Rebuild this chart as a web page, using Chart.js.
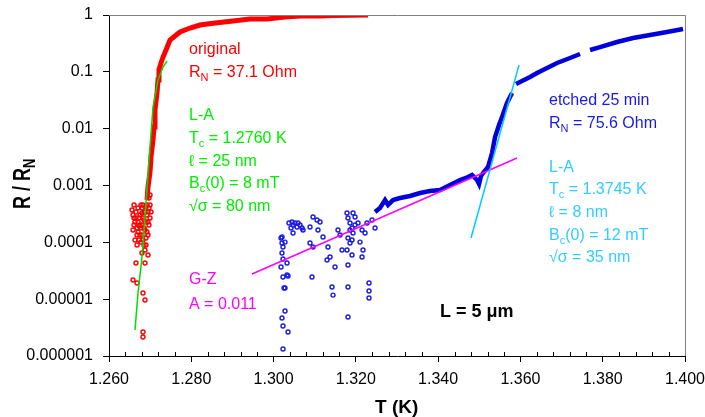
<!DOCTYPE html>
<html>
<head>
<meta charset="utf-8">
<script src="https://cdn.jsdelivr.net/npm/chart.js@4/dist/chart.umd.min.js"></script>
<style>
  body { margin: 0; background: #fff; }
</style>
</head>
<body>
<canvas id="rt" width="705" height="417"></canvas>
<script>
// axis ticks
const xTicks = [1.26, 1.28, 1.30, 1.32, 1.34, 1.36, 1.38, 1.40];
const xTickLabels = ['1.260', '1.280', '1.300', '1.320', '1.340', '1.360', '1.380', '1.400'];
const yTicks = [1e-6, 1e-5, 1e-4, 1e-3, 1e-2, 1e-1, 1];
const yTickLabels = ['0.000001', '0.00001', '0.0001', '0.001', '0.01', '0.1', '1'];

// original film, main trace
const origT = [1.26924, 1.26948, 1.26997, 1.27021, 1.27070, 1.27094, 1.27118, 1.27167, 1.27191, 1.27215,
  1.27264, 1.27313, 1.27386, 1.27483, 1.27604, 1.27726, 1.27969, 1.28212, 1.28577, 1.29014,
  1.29427, 1.29841, 1.30278, 1.30643, 1.31129, 1.31445, 1.31858, 1.32296];
const origR = [0.000555, 0.00094, 0.00173, 0.00317, 0.00632, 0.0107, 0.0213, 0.0424, 0.0718, 0.108,
  0.143, 0.182, 0.242, 0.363, 0.427, 0.502, 0.590, 0.667, 0.723, 0.784,
  0.850, 0.850, 0.922, 0.960, 0.960, 0.98, 0.99, 1.0];

// original film, noisy low part
const origNoiseT = [1.26559, 1.26583, 1.26608, 1.26632, 1.26656, 1.26681, 1.26705, 1.26729, 1.26754, 1.26778,
  1.26802, 1.26826, 1.26851, 1.26875, 1.26899, 1.26924, 1.26948, 1.26972, 1.26997, 1.26583,
  1.26632, 1.26705, 1.26778, 1.26851, 1.26899, 1.26948, 1.26802, 1.26729, 1.26681, 1.26875,
  1.26826, 1.26608,
  1.26656, 1.26705, 1.26754, 1.26754, 1.26802, 1.26826, 1.26851, 1.26875, 1.26899, 1.26924,
  1.26948, 1.26972, 1.26997, 1.27021, 1.26899, 1.26851, 1.26802, 1.26729, 1.26681, 1.26608,
  1.26778, 1.26924, 1.26972, 1.26997, 1.26948, 1.26875,
  1.26656, 1.26802, 1.26583, 1.26681, 1.26826, 1.26875, 1.26826, 1.26826];
const origNoiseR = [0.000371, 0.000303, 0.000454, 0.000228, 0.000342, 0.000179, 0.000402, 0.000268, 0.000135, 0.000454,
  0.000202, 0.000110, 0.000342, 0.000165, 0.0000897, 0.000303, 0.000228, 0.000402, 0.000268, 0.000165,
  0.000110, 0.000152, 0.000101, 0.000247, 0.000418, 0.000135, 0.000328, 0.000194, 0.0000897, 0.0000733,
  0.000454, 0.000202,
  0.000268, 0.000228, 0.000303, 0.000202, 0.000402, 0.000268, 0.000179, 0.000342, 0.000228, 0.000152,
  0.000342, 0.000202, 0.000454, 0.000342, 0.000119, 0.0000897, 0.000135, 0.000110, 0.000135, 0.000268,
  0.000179, 0.000454, 0.000602, 0.000680, 0.0000598, 0.0000433,
  0.0000433, 0.0000649, 0.0000217, 0.0000192, 0.0000128, 0.00000966, 0.00000264, 0.00000216];

// etched 25 min, continuous trace (null = gap)
const etchT = [1.32466, 1.32587, 1.32709, 1.32782, 1.32903, 1.33073, 1.33316, 1.33560, 1.33803, 1.34046,
  1.34289, 1.34532, 1.34726, 1.34824, 1.34945, 1.34994, 1.35042, 1.35091, 1.35212, 1.35310,
  1.35383, 1.35480, 1.35553, 1.35674, 1.35796, 1.35840,
  1.35893, 1.36039, 1.36233, 1.36404, 1.36647, 1.36890, 1.37206, 1.37449, 1.37570,
  1.37692, 1.37935, 1.38348, 1.38737, 1.39150, 1.39563, 1.39952];
const etchR = [0.000342, 0.000402, 0.000555, 0.000454, 0.000555, 0.000602, 0.000653, 0.000738, 0.000800, 0.000833,
  0.00102, 0.00125, 0.00141, 0.00153, 0.00125, 0.00106, 0.00147, 0.00166, 0.00211, 0.00373,
  0.00713, 0.0116, 0.0160, 0.0283, 0.0424, null,
  0.0611, 0.0690, 0.0811, 0.0954, 0.117, 0.143, 0.175, 0.206, null,
  0.242, 0.273, 0.335, 0.394, 0.445, 0.502, 0.567];

// etched 25 min, noisy low part
const etchNoiseT = [1.30375, 1.30448, 1.30473, 1.30521, 1.30570, 1.30594, 1.30643, 1.30691, 1.30716, 1.30424,
  1.30473, 1.30181, 1.30205, 1.30229, 1.30278, 1.30205, 1.30229, 1.30181, 1.30327, 1.30229,
  1.30351, 1.30278, 1.30278, 1.30205, 1.30229, 1.30351, 1.30229, 1.30886, 1.30959, 1.31056,
  1.31080, 1.31129, 1.31202, 1.30886, 1.30959, 1.30934, 1.31323, 1.31372, 1.31299, 1.31493,
  1.31566, 1.31615, 1.31664, 1.31420, 1.31445, 1.31785, 1.31809, 1.31858, 1.31907, 1.31931,
  1.31809, 1.31858, 1.31785, 1.31907, 1.31809, 1.31980, 1.31931, 1.31809, 1.31809, 1.32053,
  1.32150, 1.32223, 1.32271, 1.32101, 1.32174, 1.32150, 1.32320, 1.32320, 1.32320, 1.32466,
  1.32393, 1.30205, 1.30254, 1.30327, 1.31858, 1.31907, 1.31980];
const etchNoiseR = [0.000219, 0.000228, 0.000202, 0.000219, 0.000186, 0.000219, 0.000202, 0.000179, 0.000165, 0.000179,
  0.000146, 0.000119, 0.0000973, 0.0000827, 0.000101, 0.0000649, 0.0000509, 0.0000368, 0.0000433, 0.0000245,
  0.0000256, 0.0000157, 0.00000619, 0.00000466, 0.00000337, 0.00000264, 0.00000133, 0.000186, 0.000279, 0.000247,
  0.000165, 0.000228, 0.000124, 0.0000973, 0.0000827, 0.0000245, 0.0000827, 0.0000552, 0.0000489, 0.0000368,
  0.000165, 0.000135, 0.0000733, 0.0000164, 0.0000118, 0.000328, 0.000268, 0.000219, 0.000179, 0.000146,
  0.000119, 0.0000973, 0.0000733, 0.0000598, 0.0000399, 0.000279, 0.000328, 0.0000164, 0.00000485, 0.000219,
  0.000165, 0.000146, 0.000219, 0.000101, 0.0000733, 0.0000552, 0.0000192, 0.0000139, 0.0000105, 0.000179,
  0.000247, 0.000124, 0.0000157, 0.0000266, 0.000165, 0.000110, 0.000202];

// fits
const laOrigT = [1.26632, 1.26705, 1.26802, 1.26875, 1.26972, 1.27070, 1.27191, 1.27313, 1.27410];
const laOrigR = [0.00000287, 0.0000128, 0.0000552, 0.000279, 0.00281, 0.0240, 0.0718, 0.1216, 0.155];
const laEtchT = [1.34799, 1.35966];
const laEtchR = [0.000119, 0.132];
const gzT = [1.29476, 1.35917];
const gzR = [0.0000277, 0.00305];

// annotation texts ('_' = subscript)
const origNotes = [['original'], ['R', '_N', ' = 37.1 Ohm']];
const laOrigNotes = [['L-A'], ['T', '_c', ' = 1.2760 K'], ['ℓ = 25 nm'], ['B', '_c', '(0) = 8 mT'], ['√σ = 80 nm']];
const gzNotes = [['G-Z'], ['A = 0.011']];
const etchNotes = [['etched 25 min'], ['R', '_N', ' = 75.6 Ohm']];
const laEtchNotes = [['L-A'], ['T', '_c', ' = 1.3745 K'], ['ℓ = 8 nm'], ['B', '_c', '(0) = 12 mT'], ['√σ = 35 nm']];
const lengthNote = 'L = 5 μm';

const FONT = "'Liberation Sans', Arial, sans-serif";
const pts = (t, r) => t.map((v, i) => ({ x: v, y: r[i] }));

function drawRich(ctx, x, y, parts, size, color, weight) {
  ctx.fillStyle = color;
  ctx.textAlign = 'left';
  ctx.textBaseline = 'alphabetic';
  let cx = x;
  parts.forEach(p => {
    if (p[0] === '_') {
      ctx.font = weight + ' ' + Math.round(size * 0.7) + 'px ' + FONT;
      ctx.fillText(p.slice(1), cx, y + 4);
      cx += ctx.measureText(p.slice(1)).width;
    } else {
      ctx.font = weight + ' ' + size + 'px ' + FONT;
      ctx.fillText(p, cx, y);
      cx += ctx.measureText(p).width;
    }
  });
}

function drawBlock(ctx, lines, x, baselines, color) {
  lines.forEach((l, i) => drawRich(ctx, x, baselines[i], l, 16, color, 'normal'));
}

const decor = {
  id: 'decor',
  afterDraw(chart) {
    const ctx = chart.ctx;
    const a = chart.chartArea;
    const xs = chart.scales.x;
    ctx.save();
    // top and right frame
    ctx.strokeStyle = '#808080';
    ctx.lineWidth = 1;
    ctx.beginPath();
    ctx.moveTo(a.left, a.top + 0.5);
    ctx.lineTo(a.right + 0.5, a.top + 0.5);
    ctx.lineTo(a.right + 0.5, a.bottom);
    ctx.stroke();
    // minor x ticks, inside
    ctx.strokeStyle = '#000';
    ctx.beginPath();
    for (let i = 0; i < xTicks.length - 1; i++) {
      const step = (xTicks[i + 1] - xTicks[i]) / 5;
      for (let k = 1; k < 5; k++) {
        const px = Math.round(xs.getPixelForValue(xTicks[i] + k * step)) + 0.5;
        ctx.moveTo(px, a.bottom);
        ctx.lineTo(px, a.bottom - 4);
      }
    }
    ctx.stroke();

    drawBlock(ctx, origNotes, 189, [54, 77], '#ff0000');
    drawBlock(ctx, laOrigNotes, 189, [120, 143, 166, 188, 211], '#00ee00');
    drawBlock(ctx, gzNotes, 189, [284, 309], '#ff00ff');
    drawBlock(ctx, etchNotes, 549, [105, 128], '#1a1ae6');
    drawBlock(ctx, laEtchNotes, 549, [172, 194, 217, 240, 262], '#33ccff');
    drawRich(ctx, 440, 317, [lengthNote], 18, '#000', 'bold');

    // axis titles
    drawRich(ctx, 375, 413, ['T (K)'], 19, '#000', 'bold');
    ctx.translate(30, 209);
    ctx.rotate(-Math.PI / 2);
    ctx.scale(1, 1.3);
    drawRich(ctx, 0, 0, ['R / R', '_N'], 18, '#000', 'bold');
    ctx.restore();
  }
};

const hollow = (color, r, w) => ({
  showLine: false, pointRadius: r, pointBorderWidth: w,
  pointBorderColor: color, pointBackgroundColor: 'rgba(0,0,0,0)', pointHoverRadius: r
});
const line = (color, w) => ({
  showLine: true, borderColor: color, borderWidth: w, pointRadius: 0, fill: false, spanGaps: false
});

new Chart(document.getElementById('rt'), {
  type: 'scatter',
  data: {
    datasets: [
      { label: 'L-A etched', data: pts(laEtchT, laEtchR), ...line('#00ccff', 1.5) },
      { label: 'L-A original', data: pts(laOrigT, laOrigR), ...line('#00dd00', 1.5) },
      { label: 'G-Z', data: pts(gzT, gzR), ...line('#ff00ff', 1.5) },
      { label: 'etched', data: pts(etchT, etchR), ...line('#0000dd', 4.5) },
      { label: 'etched noise', data: pts(etchNoiseT, etchNoiseR), ...hollow('#1a1ae6', 2, 1.4) },
      { label: 'original', data: pts(origT, origR), ...line('#ff0000', 5) },
      { label: 'original noise', data: pts(origNoiseT, origNoiseR), ...hollow('#ff0000', 2, 1.4) }
    ]
  },
  options: {
    responsive: false,
    animation: false,
    layout: { padding: { left: 0, right: 20, top: 15, bottom: 0 } },
    plugins: {
      legend: { display: false },
      tooltip: { enabled: false }
    },
    scales: {
      x: {
        type: 'linear',
        min: 1.26,
        max: 1.40,
        afterBuildTicks: s => { s.ticks = xTicks.map(v => ({ value: v })); },
        afterFit: s => { s.height = 61; s.paddingLeft = 0; s.paddingRight = 0; },
        ticks: {
          callback: (v, i) => xTickLabels[i],
          font: { family: FONT, size: 16 },
          color: '#000',
          padding: 8,
          maxRotation: 0,
          autoSkip: false
        },
        grid: { drawOnChartArea: false, tickLength: 6, color: '#000' },
        border: { color: '#000', width: 1 }
      },
      y: {
        type: 'logarithmic',
        min: 1e-6,
        max: 1,
        afterBuildTicks: s => { s.ticks = yTicks.map(v => ({ value: v })); },
        afterFit: s => { s.width = 109; s.paddingTop = 0; s.paddingBottom = 0; },
        ticks: {
          callback: (v, i) => yTickLabels[i],
          font: { family: FONT, size: 16 },
          color: '#000',
          padding: 10,
          autoSkip: false
        },
        grid: { drawOnChartArea: false, tickLength: 6, color: '#000' },
        border: { color: '#000', width: 1 }
      }
    }
  },
  plugins: [decor]
});
</script>
</body>
</html>
